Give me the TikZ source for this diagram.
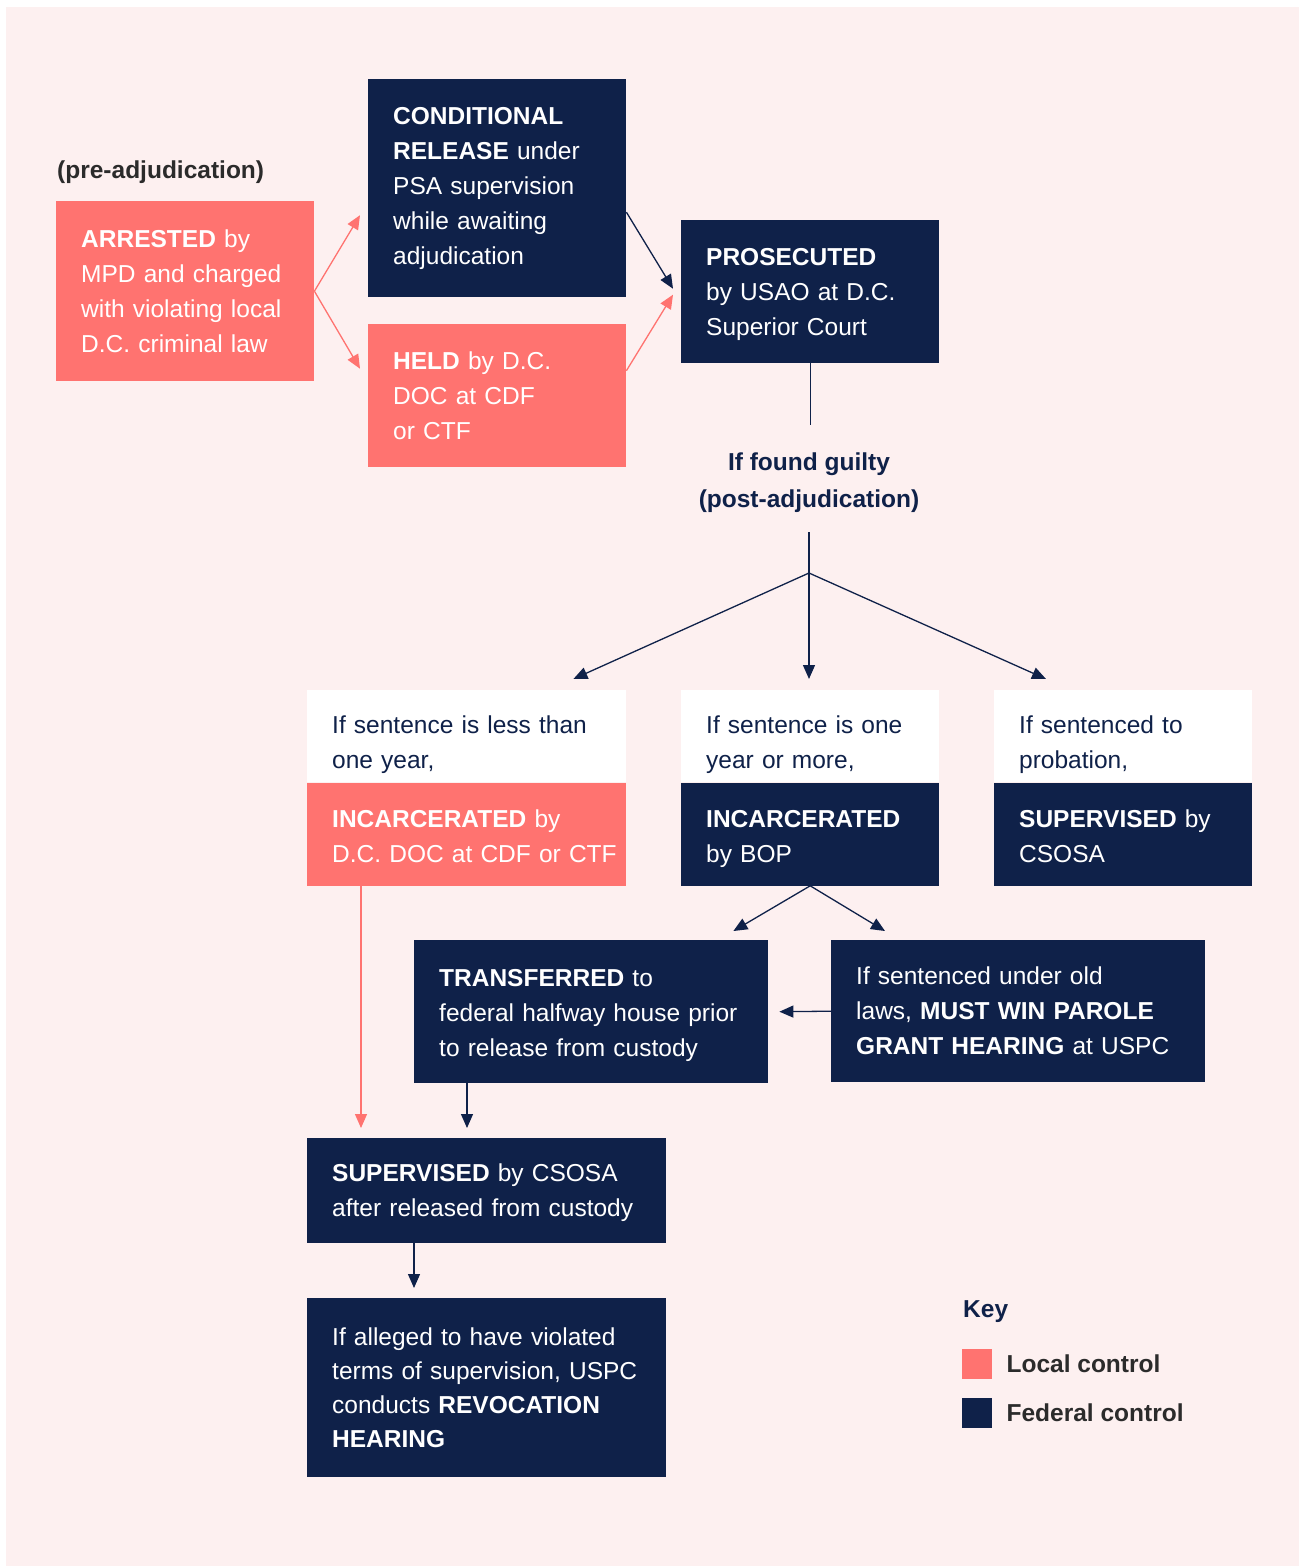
\documentclass[tikz,border=0pt]{standalone}
\usepackage{fontspec}
\setmainfont{Liberation Sans}
\usetikzlibrary{positioning, arrows.meta}

\definecolor{salmon}{HTML}{FF7370}
\definecolor{navy}{HTML}{0F2149}
\definecolor{blush}{HTML}{FDF0F0}
\definecolor{ink}{HTML}{2B2B2B}

\newcommand{\boxfont}{\fontsize{24.5}{35}\selectfont}

\tikzset{
  flowbox/.style={rectangle, anchor=north west, inner xsep=25pt, inner ysep=0pt, align=left, font=\boxfont},
  localbox/.style={flowbox, fill=salmon, text=white},
  fedbox/.style={flowbox, fill=navy, text=white},
  ifbox/.style={flowbox, fill=white, text=navy, text height=34pt},
  lowbox/.style={text height=22pt, text depth=35pt},
  localarrow/.style={draw=salmon, line width=1.3pt, -{Triangle[length=14pt,width=12pt]}},
  fedarrow/.style={draw=navy, line width=1.3pt, -{Triangle[length=14pt,width=12pt]}},
  keybox/.style={rectangle, minimum size=30pt, inner sep=0pt, anchor=north west},
  keytext/.style={font=\boxfont\bfseries, text=ink, inner sep=0pt}
}

\begin{document}
\begin{tikzpicture}[x=1pt, y=-1pt]
        \useasboundingbox (0,0) rectangle (1299,1566);
        \fill[blush] (6,7) rectangle (1299,1566);

        \node[keytext, anchor=west] (pre) at (57,172) {(pre-adjudication)};
        \node[localbox, text width=208pt, minimum height=180pt] (arrested) at (56,201) {
                \textbf{ARRESTED} by\\
                MPD and charged\\
                with violating local\\
                D.C. criminal law};
        \node[fedbox, text width=208pt, minimum height=218pt] (cond) at (368,79) {
                \textbf{CONDITIONAL}\\
                \textbf{RELEASE} under\\
                PSA supervision\\
                while awaiting\\
                adjudication};
        \node[localbox, text width=208pt, minimum height=143pt] (held) at (368,324) {
                \textbf{HELD} by D.C.\\
                DOC at CDF\\
                or CTF};
        \node[fedbox, text width=208pt, minimum height=143pt, text height=22pt] (pros) at (681,220) {
                \textbf{PROSECUTED}\\
                by USAO at D.C.\\
                Superior Court};
        \node[font=\fontsize{24.5}{37}\selectfont\bfseries, text=navy, align=center, minimum height=99pt, inner sep=0pt] (guilty) at (809,482.5) {
                If found guilty\\
                (post-adjudication)};
        \coordinate (fork) at (809,573);

        \node[ifbox, text width=269pt, minimum height=92pt] (less) at (307,690) {
                If sentence is less than\\
                one year,};
        \node[localbox, lowbox, text width=269pt, minimum height=103pt] (lessinc) at (less.south west) {
                \textbf{INCARCERATED} by\\
                D.C.~DOC~at~CDF~or~CTF};
        \node[ifbox, text width=208pt, minimum height=92pt] (more) at (681,690) {
                If sentence is one\\
                year or more,};
        \node[fedbox, lowbox, text width=208pt, minimum height=103pt] (moreinc) at (more.south west) {
                \textbf{INCARCERATED}\\
                by BOP};
        \node[ifbox, text width=208pt, minimum height=92pt] (prob) at (994,690) {
                If sentenced to\\
                probation,};
        \node[fedbox, lowbox, text width=208pt, minimum height=103pt] (probsup) at (prob.south west) {
                \textbf{SUPERVISED} by\\
                CSOSA};

        \node[fedbox, text width=304pt, minimum height=143pt, text height=24pt] (trans) at (414,940) {
                \textbf{TRANSFERRED} to\\
                federal halfway house prior\\
                to release from custody};
        \node[fedbox, text width=324pt, minimum height=142pt] (parole) at (831,940) {
                If sentenced under old\\
                laws, \textbf{MUST WIN PAROLE}\\
                \textbf{GRANT HEARING} at USPC};
        \node[fedbox, text width=309pt, minimum height=105pt, text height=22pt] (superv) at (307,1138) {
                \textbf{SUPERVISED} by CSOSA\\
                after released from custody};
        \node[fedbox, text width=309pt, minimum height=179pt, font=\fontsize{24.5}{34.3}\selectfont] (revoc) at (307,1298) {
                If alleged to have violated\\
                terms of supervision, USPC\\
                conducts \textbf{REVOCATION}\\
                \textbf{HEARING}};

        \node[keytext, text=navy, anchor=west] (keytitle) at (963,1312) {Key};
        \node[keybox, fill=salmon] (keylocal) at (962,1349) {};
        \node[keytext, right=14pt of keylocal] (keylocaltext) {Local control};
        \node[keybox, fill=navy] (keyfed) at (962,1398) {};
        \node[keytext, right=14pt of keyfed] (keyfedtext) {Federal control};

        \draw[localarrow] (arrested.east) -- ([xshift=-8pt, yshift=-27pt]cond.west);
        \draw[localarrow] (arrested.east) -- ([xshift=-8pt, yshift=27pt]held.west);
        \draw[fedarrow] ([yshift=-24pt]cond.east) -- ([xshift=-8pt, yshift=3pt]pros.west);
        \draw[localarrow] ([yshift=25pt]held.east) -- ([xshift=-8pt, yshift=-3pt]pros.west);
        \draw[navy, line width=1.3pt] (pros.south) -- ([yshift=-62pt]pros.south);
        \draw[navy, line width=1.3pt] (guilty.south) -- (fork);
        \draw[fedarrow] (fork) -- ([xshift=-53pt, yshift=11pt]less.north east);
        \draw[fedarrow] (fork) -- ([yshift=11pt]fork |- more.north);
        \draw[fedarrow] (fork) -- ([xshift=52pt, yshift=11pt]prob.north west);
        \draw[fedarrow] (moreinc.south) -- ([xshift=-35pt, yshift=9pt]trans.north east);
        \draw[fedarrow] (moreinc.south) -- ([xshift=54pt, yshift=9pt]parole.north west);
        \draw[fedarrow] (parole.west) -- ([xshift=11pt]trans.east);
        \draw[localarrow] ([xshift=54pt]lessinc.south west) -- ([xshift=54pt, yshift=10pt]superv.north west);
        \draw[fedarrow] ([xshift=53pt]trans.south west) -- ([xshift=160pt, yshift=10pt]superv.north west);
        \draw[fedarrow] ([xshift=107pt]superv.south west) -- ([xshift=107pt, yshift=10pt]revoc.north west);
    \end{tikzpicture}
\end{document}
